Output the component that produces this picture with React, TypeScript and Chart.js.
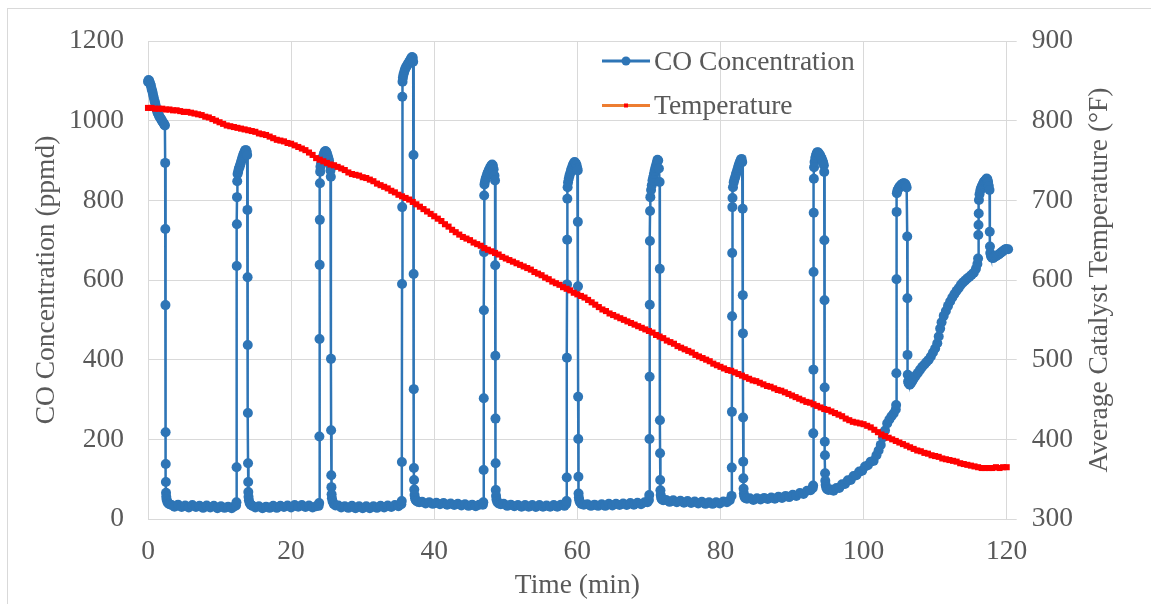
import { useEffect, useRef } from "react";
import { Chart, registerables } from "chart.js";

Chart.register(...registerables);

// ---- Data: CO concentration (ppmd) as [minute, ppmd] samples, one array per cycle ----
const coCycle1: number[][] = [
  [0, 1098], [0.08, 1102], [0.16, 1100], [0.24, 1096], [0.32, 1092], [0.4, 1088], [0.5, 1080], [0.6, 1074],
  [0.7, 1066], [0.8, 1058], [0.9, 1050], [1.0, 1044], [1.1, 1036], [1.2, 1028], [1.3, 1022], [1.4, 1018],
  [1.5, 1014], [1.6, 1010], [1.7, 1008], [1.8, 1004], [1.9, 1002], [2.0, 998], [2.1, 996], [2.2, 993],
  [2.3, 990], [2.36, 988],
  [2.4, 894], [2.42, 728], [2.44, 537], [2.46, 218], [2.48, 138], [2.5, 93], [2.52, 66], [2.55, 56],
  [2.6, 49], [2.7, 43], [2.85, 39], [3.0, 37], [3.3, 35], [3.7, 31], [4.2, 36], [4.7, 30], [5.2, 34],
  [5.7, 29], [6.2, 35], [6.7, 30], [7.2, 33], [7.7, 28], [8.2, 34], [8.7, 29], [9.2, 33], [9.7, 27],
  [10.2, 32], [10.7, 28], [11.2, 31], [11.7, 27], [12.1, 32], [12.3, 34],
];
const coCycle2: number[][] = [
  [12.36, 42], [12.38, 130], [12.4, 635], [12.42, 740], [12.44, 808], [12.47, 848], [12.52, 866], [12.6, 872],
  [12.7, 880], [12.8, 884], [12.9, 890], [13.0, 896], [13.1, 902], [13.2, 908], [13.3, 914], [13.4, 918],
  [13.5, 922], [13.6, 926], [13.7, 926], [13.8, 922], [13.86, 914],
  [13.9, 776], [13.92, 607], [13.94, 437], [13.96, 266], [13.98, 140], [14.0, 93], [14.02, 68], [14.05, 56],
  [14.1, 47], [14.2, 40], [14.35, 36], [14.6, 33], [15.0, 29], [15.5, 32], [16.0, 27], [16.5, 31], [17.0, 28],
  [17.5, 33], [18.0, 28], [18.5, 33], [19.0, 30], [19.5, 34], [20.0, 29], [20.5, 35], [21.0, 31], [21.5, 35],
  [22.0, 30], [22.5, 34], [23.0, 29], [23.5, 32], [23.85, 33],
];
const coCycle3: number[][] = [
  [23.92, 40], [23.95, 207], [23.97, 452], [23.99, 638], [24.01, 751], [24.03, 843], [24.06, 872], [24.1, 884],
  [24.2, 893], [24.3, 900], [24.4, 906], [24.5, 912], [24.6, 918], [24.7, 922], [24.8, 924], [24.9, 922],
  [25.0, 918], [25.1, 912], [25.2, 906], [25.3, 900], [25.4, 890], [25.5, 875],
  [25.55, 859], [25.57, 402], [25.59, 223], [25.61, 110], [25.63, 80], [25.66, 62], [25.7, 52], [25.8, 44],
  [25.95, 38], [26.2, 34], [26.6, 34], [27.0, 29], [27.5, 32], [28.0, 28], [28.5, 33], [29.0, 27], [29.5, 32],
  [30.0, 27], [30.5, 32], [31.0, 27], [31.5, 32], [32.0, 28], [32.5, 33], [33.0, 29], [33.5, 34], [34.0, 30],
  [34.5, 35], [35.0, 32], [35.4, 37],
];
const coCycle4: number[][] = [
  [35.46, 45], [35.48, 143], [35.5, 590], [35.52, 783], [35.54, 1060], [35.57, 1098], [35.62, 1108],
  [35.7, 1116], [35.8, 1122], [35.9, 1128], [36.0, 1132], [36.1, 1136], [36.2, 1138], [36.3, 1142],
  [36.4, 1144], [36.5, 1148], [36.6, 1150], [36.7, 1154], [36.8, 1157], [36.9, 1160], [37.0, 1158],
  [37.06, 1148],
  [37.1, 914], [37.12, 615], [37.14, 326], [37.16, 128], [37.18, 98], [37.21, 74], [37.25, 60], [37.32, 52],
  [37.42, 47], [37.6, 44], [37.9, 42], [38.3, 43], [38.8, 39], [39.3, 42], [39.8, 38], [40.3, 41], [40.8, 37],
  [41.3, 40], [41.8, 36], [42.3, 39], [42.8, 35], [43.3, 38], [43.8, 34], [44.3, 37], [44.8, 33], [45.3, 36],
  [45.8, 32], [46.3, 36], [46.8, 36],
];
const coCycle5: number[][] = [
  [46.86, 42], [46.9, 123], [46.92, 303], [46.94, 524], [46.96, 670], [46.98, 812], [47.02, 840], [47.1, 848],
  [47.2, 855], [47.3, 860], [47.4, 866], [47.5, 870], [47.6, 874], [47.7, 878], [47.8, 882], [47.9, 885],
  [48.0, 888], [48.1, 890], [48.2, 887], [48.3, 878], [48.42, 862],
  [48.5, 850], [48.52, 637], [48.54, 410], [48.56, 252], [48.58, 140], [48.6, 73], [48.64, 58], [48.7, 49],
  [48.8, 43], [49.0, 39], [49.3, 37], [49.7, 38], [50.2, 33], [50.7, 36], [51.2, 32], [51.7, 35], [52.2, 31],
  [52.7, 35], [53.2, 31], [53.7, 35], [54.2, 30], [54.7, 35], [55.2, 31], [55.7, 34], [56.2, 31], [56.7, 35],
  [57.2, 31], [57.7, 36], [58.2, 33], [58.45, 38],
];
const coCycle6: number[][] = [
  [58.5, 45], [58.52, 104], [58.54, 405], [58.56, 589], [58.58, 701], [58.6, 804], [58.64, 833], [58.7, 845],
  [58.8, 854], [58.9, 862], [59.0, 868], [59.1, 874], [59.2, 880], [59.3, 885], [59.4, 890], [59.5, 893],
  [59.6, 896], [59.7, 895], [59.8, 892], [59.9, 888], [60.0, 880],
  [60.05, 875], [60.07, 746], [60.09, 584], [60.11, 307], [60.13, 201], [60.15, 106], [60.17, 64], [60.21, 54],
  [60.27, 47], [60.37, 42], [60.55, 38], [60.9, 36], [61.4, 37], [61.9, 33], [62.4, 36], [62.9, 33], [63.4, 37],
  [63.9, 33], [64.4, 38], [64.9, 34], [65.4, 38], [65.9, 35], [66.4, 39], [66.9, 35], [67.4, 40], [67.9, 36],
  [68.4, 41], [68.9, 37], [69.4, 42], [69.8, 42], [70.0, 48],
];
const coCycle7: number[][] = [
  [70.05, 60], [70.08, 201], [70.1, 357], [70.12, 538], [70.14, 698], [70.16, 773], [70.2, 808], [70.3, 826],
  [70.4, 838], [70.5, 850], [70.6, 858], [70.7, 866], [70.8, 874], [70.9, 882], [71.0, 888], [71.1, 895],
  [71.2, 902], [71.3, 900], [71.4, 880],
  [71.5, 846], [71.52, 628], [71.54, 248], [71.56, 165], [71.58, 98], [71.61, 72], [71.65, 60], [71.72, 53],
  [71.82, 49], [72.0, 47], [72.4, 48], [72.9, 43], [73.4, 47], [73.9, 42], [74.4, 46], [74.9, 41], [75.4, 45],
  [75.9, 40], [76.4, 44], [76.9, 39], [77.4, 43], [77.9, 38], [78.4, 42], [78.9, 38], [79.4, 42], [79.9, 39],
  [80.4, 44], [80.9, 42], [81.3, 47],
];
const coCycle8: number[][] = [
  [81.55, 58], [81.58, 129], [81.6, 269], [81.62, 509], [81.64, 668], [81.66, 783], [81.68, 806], [81.75, 833],
  [81.85, 845], [81.95, 852], [82.05, 858], [82.15, 864], [82.25, 870], [82.35, 876], [82.45, 882],
  [82.55, 888], [82.65, 893], [82.75, 898], [82.85, 902], [82.95, 904], [83.04, 896],
  [83.1, 779], [83.12, 562], [83.14, 466], [83.16, 255], [83.18, 144], [83.2, 102], [83.23, 76], [83.27, 64],
  [83.33, 57], [83.45, 53], [83.7, 51], [84.1, 52], [84.6, 48], [85.1, 52], [85.6, 49], [86.1, 53], [86.6, 50],
  [87.1, 54], [87.6, 51], [88.1, 56], [88.6, 53], [89.1, 58], [89.6, 55], [90.1, 61], [90.6, 58], [91.1, 65],
  [91.6, 63], [92.1, 71], [92.6, 72], [92.9, 78],
];
const coCycle9: number[][] = [
  [92.95, 84], [92.97, 215], [92.99, 375], [93.01, 620], [93.03, 769], [93.05, 854], [93.08, 883], [93.15, 896],
  [93.25, 906], [93.35, 913], [93.45, 918], [93.55, 921], [93.65, 920], [93.75, 918], [93.85, 915],
  [93.95, 912], [94.05, 908], [94.15, 904], [94.25, 900], [94.35, 895], [94.45, 888],
  [94.5, 871], [94.52, 700], [94.54, 549], [94.56, 330], [94.58, 194], [94.6, 160], [94.62, 115], [94.65, 96],
  [94.7, 86], [94.78, 79], [94.9, 75], [95.1, 73], [95.4, 74], [95.8, 71], [96.2, 78], [96.6, 78], [97.0, 87],
  [97.4, 88], [97.8, 97], [98.2, 98], [98.6, 108], [99.0, 110], [99.4, 119], [99.8, 121], [100.2, 132],
  [100.6, 135], [101.0, 144], [101.4, 146], [101.8, 160], [102.1, 172], [102.4, 186], [102.7, 205],
  [103.0, 222], [103.3, 240], [103.6, 250], [103.9, 258], [104.2, 265], [104.5, 275],
];
const coCycle10: number[][] = [
  [104.55, 286], [104.58, 366], [104.6, 602], [104.62, 771], [104.65, 818], [104.72, 824], [104.82, 828],
  [104.92, 831], [105.02, 834], [105.12, 836], [105.22, 838], [105.32, 840], [105.42, 841], [105.52, 842],
  [105.62, 843], [105.72, 842], [105.82, 841], [105.92, 838], [106.02, 832],
  [106.1, 709], [106.12, 554], [106.14, 412], [106.17, 362], [106.22, 345], [106.3, 340], [106.45, 337],
  [106.6, 340], [106.8, 346], [107.0, 352], [107.3, 360], [107.6, 367], [107.9, 375], [108.2, 382],
  [108.5, 388], [108.8, 394], [109.1, 400], [109.4, 408], [109.7, 418], [110.0, 428], [110.3, 441],
  [110.5, 458], [110.7, 478], [110.9, 494], [111.2, 510], [111.5, 522], [111.8, 535], [112.1, 546],
  [112.4, 556], [112.7, 565], [113.0, 573], [113.3, 580], [113.6, 588], [113.9, 594], [114.2, 599],
  [114.5, 604], [114.8, 608], [115.1, 613], [115.4, 618], [115.7, 628], [115.9, 640],
];
const coCycle11: number[][] = [
  [116.0, 654], [116.03, 713], [116.06, 738], [116.09, 767], [116.12, 801], [116.2, 815], [116.3, 824],
  [116.4, 830], [116.5, 834], [116.6, 838], [116.7, 842], [116.8, 846], [116.9, 848], [117.0, 850],
  [117.1, 852], [117.2, 855], [117.3, 853], [117.4, 846], [117.5, 836],
  [117.6, 826], [117.63, 721], [117.66, 684], [117.7, 668], [117.8, 660], [117.95, 656], [118.1, 655],
  [118.3, 658], [118.5, 660], [118.7, 662], [118.9, 664], [119.1, 667], [119.3, 670], [119.5, 673],
  [119.7, 676], [119.9, 678], [120.2, 677],
];

// ---- Data: average catalyst temperature (°F), logged every half minute from 0 to 120 min ----
const TEMP_STEP_MIN = 0.5;
const temperatureF: number[] = [
  816, 816, 815, 815, 815, 814, 814, 813, 813, 812, 811, 811, 810, 809, 808, 807, 805, 804, 802, 800,
  798, 796, 794, 793, 792, 791, 790, 789, 788, 787, 786, 784, 783, 782, 780, 778, 776, 775, 774, 772,
  771, 769, 767, 765, 763, 760, 757, 753, 751, 749, 747, 745, 744, 742, 740, 738, 735, 733, 732, 731,
  729, 728, 726, 724, 721, 719, 717, 715, 712, 710, 707, 705, 703, 701, 698, 695, 692, 689, 686, 683,
  680, 677, 674, 670, 667, 663, 660, 657, 654, 652, 650, 647, 645, 643, 640, 638, 636, 634, 632, 629,
  627, 625, 623, 621, 619, 617, 615, 613, 610, 608, 606, 603, 601, 598, 596, 594, 591, 589, 587, 584,
  582, 580, 578, 575, 572, 569, 566, 563, 561, 558, 556, 554, 552, 550, 548, 546, 544, 542, 540, 538,
  536, 534, 531, 529, 527, 524, 522, 520, 517, 515, 513, 511, 509, 506, 504, 502, 500, 498, 495, 493,
  491, 489, 487, 486, 484, 482, 480, 478, 476, 474, 473, 471, 469, 467, 466, 464, 462, 461, 459, 457,
  455, 453, 451, 449, 447, 446, 444, 442, 440, 438, 437, 435, 433, 431, 429, 426, 424, 422, 421, 420,
  419, 417, 415, 412, 409, 406, 404, 402, 400, 398, 396, 394, 392, 390, 388, 386, 385, 383, 382, 380,
  379, 378, 376, 375, 374, 373, 372, 370, 369, 368, 367, 366, 365, 364, 364, 364, 364, 365, 364, 365,
  365,
];

// ---- Axes ----
const timeRange = { min: 0, max: 120, step: 20 };
const coRange = { min: 0, max: 1200, step: 200 };
const tempRange = { min: 300, max: 900, step: 100 };

const seriesLabels = ["CO Concentration", "Temperature"];
const axisTitles = {
  x: "Time (min)",
  y: "CO Concentration (ppmd)",
  y1: "Average Catalyst Temperature (°F)",
};

const FONT_FAMILY = "'Liberation Serif', 'Times New Roman', serif";
const FONT_SIZE = 27.5;
const TEXT_COLOR = "#595959";
const GRID_COLOR = "#d9d9d9";
const CO_COLOR = "#2E75B6";
const TEMP_LINE_COLOR = "#ED7D31";
const TEMP_MARK_COLOR = "#FF0000";

const W = 1151;
const H = 604;

// Legend inside the plot area and the right-hand axis title (reading bottom to top).
const overlayPlugin = {
  id: "overlayText",
  afterDraw(chart: any) {
    const ctx: CanvasRenderingContext2D = chart.ctx;
    ctx.save();
    ctx.font = `${FONT_SIZE}px ${FONT_FAMILY}`;
    ctx.fillStyle = TEXT_COLOR;
    ctx.textAlign = "left";
    ctx.textBaseline = "alphabetic";

    // CO Concentration entry
    ctx.strokeStyle = CO_COLOR;
    ctx.lineWidth = 3;
    ctx.beginPath();
    ctx.moveTo(602, 61);
    ctx.lineTo(650, 61);
    ctx.stroke();
    ctx.fillStyle = CO_COLOR;
    ctx.beginPath();
    ctx.arc(626, 61, 4.5, 0, Math.PI * 2);
    ctx.fill();
    ctx.fillStyle = TEXT_COLOR;
    ctx.fillText(seriesLabels[0], 654, 70);

    // Temperature entry
    ctx.strokeStyle = TEMP_LINE_COLOR;
    ctx.lineWidth = 3;
    ctx.beginPath();
    ctx.moveTo(602, 105.5);
    ctx.lineTo(650, 105.5);
    ctx.stroke();
    ctx.fillStyle = TEMP_MARK_COLOR;
    ctx.fillRect(624, 103.5, 4, 4);
    ctx.fillStyle = TEXT_COLOR;
    ctx.fillText(seriesLabels[1], 654, 114);

    // Right axis title
    const area = chart.chartArea;
    ctx.translate(1100, (area.top + area.bottom) / 2);
    ctx.rotate(-Math.PI / 2);
    ctx.textAlign = "center";
    ctx.textBaseline = "middle";
    ctx.fillText(axisTitles.y1, 0, 0);
    ctx.restore();
  },
};

export default function App() {
  const canvasRef = useRef<HTMLCanvasElement | null>(null);

  useEffect(() => {
    if (!canvasRef.current) return;
    const coPoints = [
      ...coCycle1, ...coCycle2, ...coCycle3, ...coCycle4, ...coCycle5, ...coCycle6,
      ...coCycle7, ...coCycle8, ...coCycle9, ...coCycle10, ...coCycle11,
    ].map(([x, y]) => ({ x, y }));
    const tempPoints = temperatureF.map((y, i) => ({ x: i * TEMP_STEP_MIN, y }));

    const tickFont = { family: FONT_FAMILY, size: FONT_SIZE };
    const plainNumber = (v: any) => String(v);

    const chart = new Chart(canvasRef.current, {
      type: "line",
      data: {
        datasets: [
          {
            label: seriesLabels[0],
            data: coPoints,
            yAxisID: "y",
            borderColor: CO_COLOR,
            backgroundColor: CO_COLOR,
            borderWidth: 2.5,
            pointRadius: 5,
            pointBorderWidth: 0,
            pointBackgroundColor: CO_COLOR,
            tension: 0,
            clip: false as any,
            order: 2,
          },
          {
            label: seriesLabels[1],
            data: tempPoints,
            yAxisID: "y1",
            borderColor: TEMP_LINE_COLOR,
            backgroundColor: TEMP_MARK_COLOR,
            borderWidth: 2.5,
            pointStyle: "rect",
            pointRadius: 4.3,
            pointBorderWidth: 0,
            pointBackgroundColor: TEMP_MARK_COLOR,
            tension: 0,
            clip: false as any,
            order: 1,
          },
        ],
      },
      options: {
        responsive: false,
        maintainAspectRatio: false,
        animation: false,
        devicePixelRatio: 1,
        layout: { padding: { top: 41, left: 0, right: 0, bottom: 0 } },
        plugins: {
          legend: { display: false },
          tooltip: { enabled: false },
        },
        scales: {
          x: {
            type: "linear",
            min: timeRange.min,
            max: timeRange.max,
            ticks: {
              stepSize: timeRange.step,
              font: tickFont,
              color: TEXT_COLOR,
              padding: 16,
              maxRotation: 0,
              callback: plainNumber,
            },
            grid: { color: GRID_COLOR, drawTicks: false },
            border: { color: GRID_COLOR },
            title: {
              display: true,
              text: axisTitles.x,
              font: tickFont,
              color: TEXT_COLOR,
              padding: { top: 0, bottom: 1.5 },
            },
            afterFit: (scale: any) => {
              scale.height = 85;
            },
          },
          y: {
            type: "linear",
            position: "left",
            min: coRange.min,
            max: coRange.max,
            ticks: { stepSize: coRange.step, font: tickFont, color: TEXT_COLOR, padding: 24, callback: plainNumber },
            grid: { color: GRID_COLOR, drawTicks: false },
            border: { color: GRID_COLOR },
            title: {
              display: true,
              text: axisTitles.y,
              font: tickFont,
              color: TEXT_COLOR,
              padding: { top: 30, bottom: 0 },
            },
            afterFit: (scale: any) => {
              scale.width = 148;
            },
          },
          y1: {
            type: "linear",
            position: "right",
            min: tempRange.min,
            max: tempRange.max,
            ticks: { stepSize: tempRange.step, font: tickFont, color: TEXT_COLOR, padding: 15, callback: plainNumber },
            grid: { color: GRID_COLOR, drawOnChartArea: false, drawTicks: true, tickLength: 10 },
            border: { color: GRID_COLOR },
            afterFit: (scale: any) => {
              scale.width = 144.3;
            },
          },
        },
      },
      plugins: [overlayPlugin],
    });

    return () => chart.destroy();
  }, []);

  return (
    <div style={{ position: "fixed", left: 0, top: 0, width: W, height: H, background: "#fff", overflow: "hidden" }}>
      <div
        style={{
          position: "absolute",
          left: 7,
          top: 8,
          width: 1400,
          height: 800,
          borderLeft: `1px solid ${GRID_COLOR}`,
          borderTop: `1px solid ${GRID_COLOR}`,
        }}
      />
      <canvas
        ref={canvasRef}
        width={W}
        height={H}
        style={{ position: "absolute", left: 0, top: 0, width: W, height: H }}
      />
    </div>
  );
}
